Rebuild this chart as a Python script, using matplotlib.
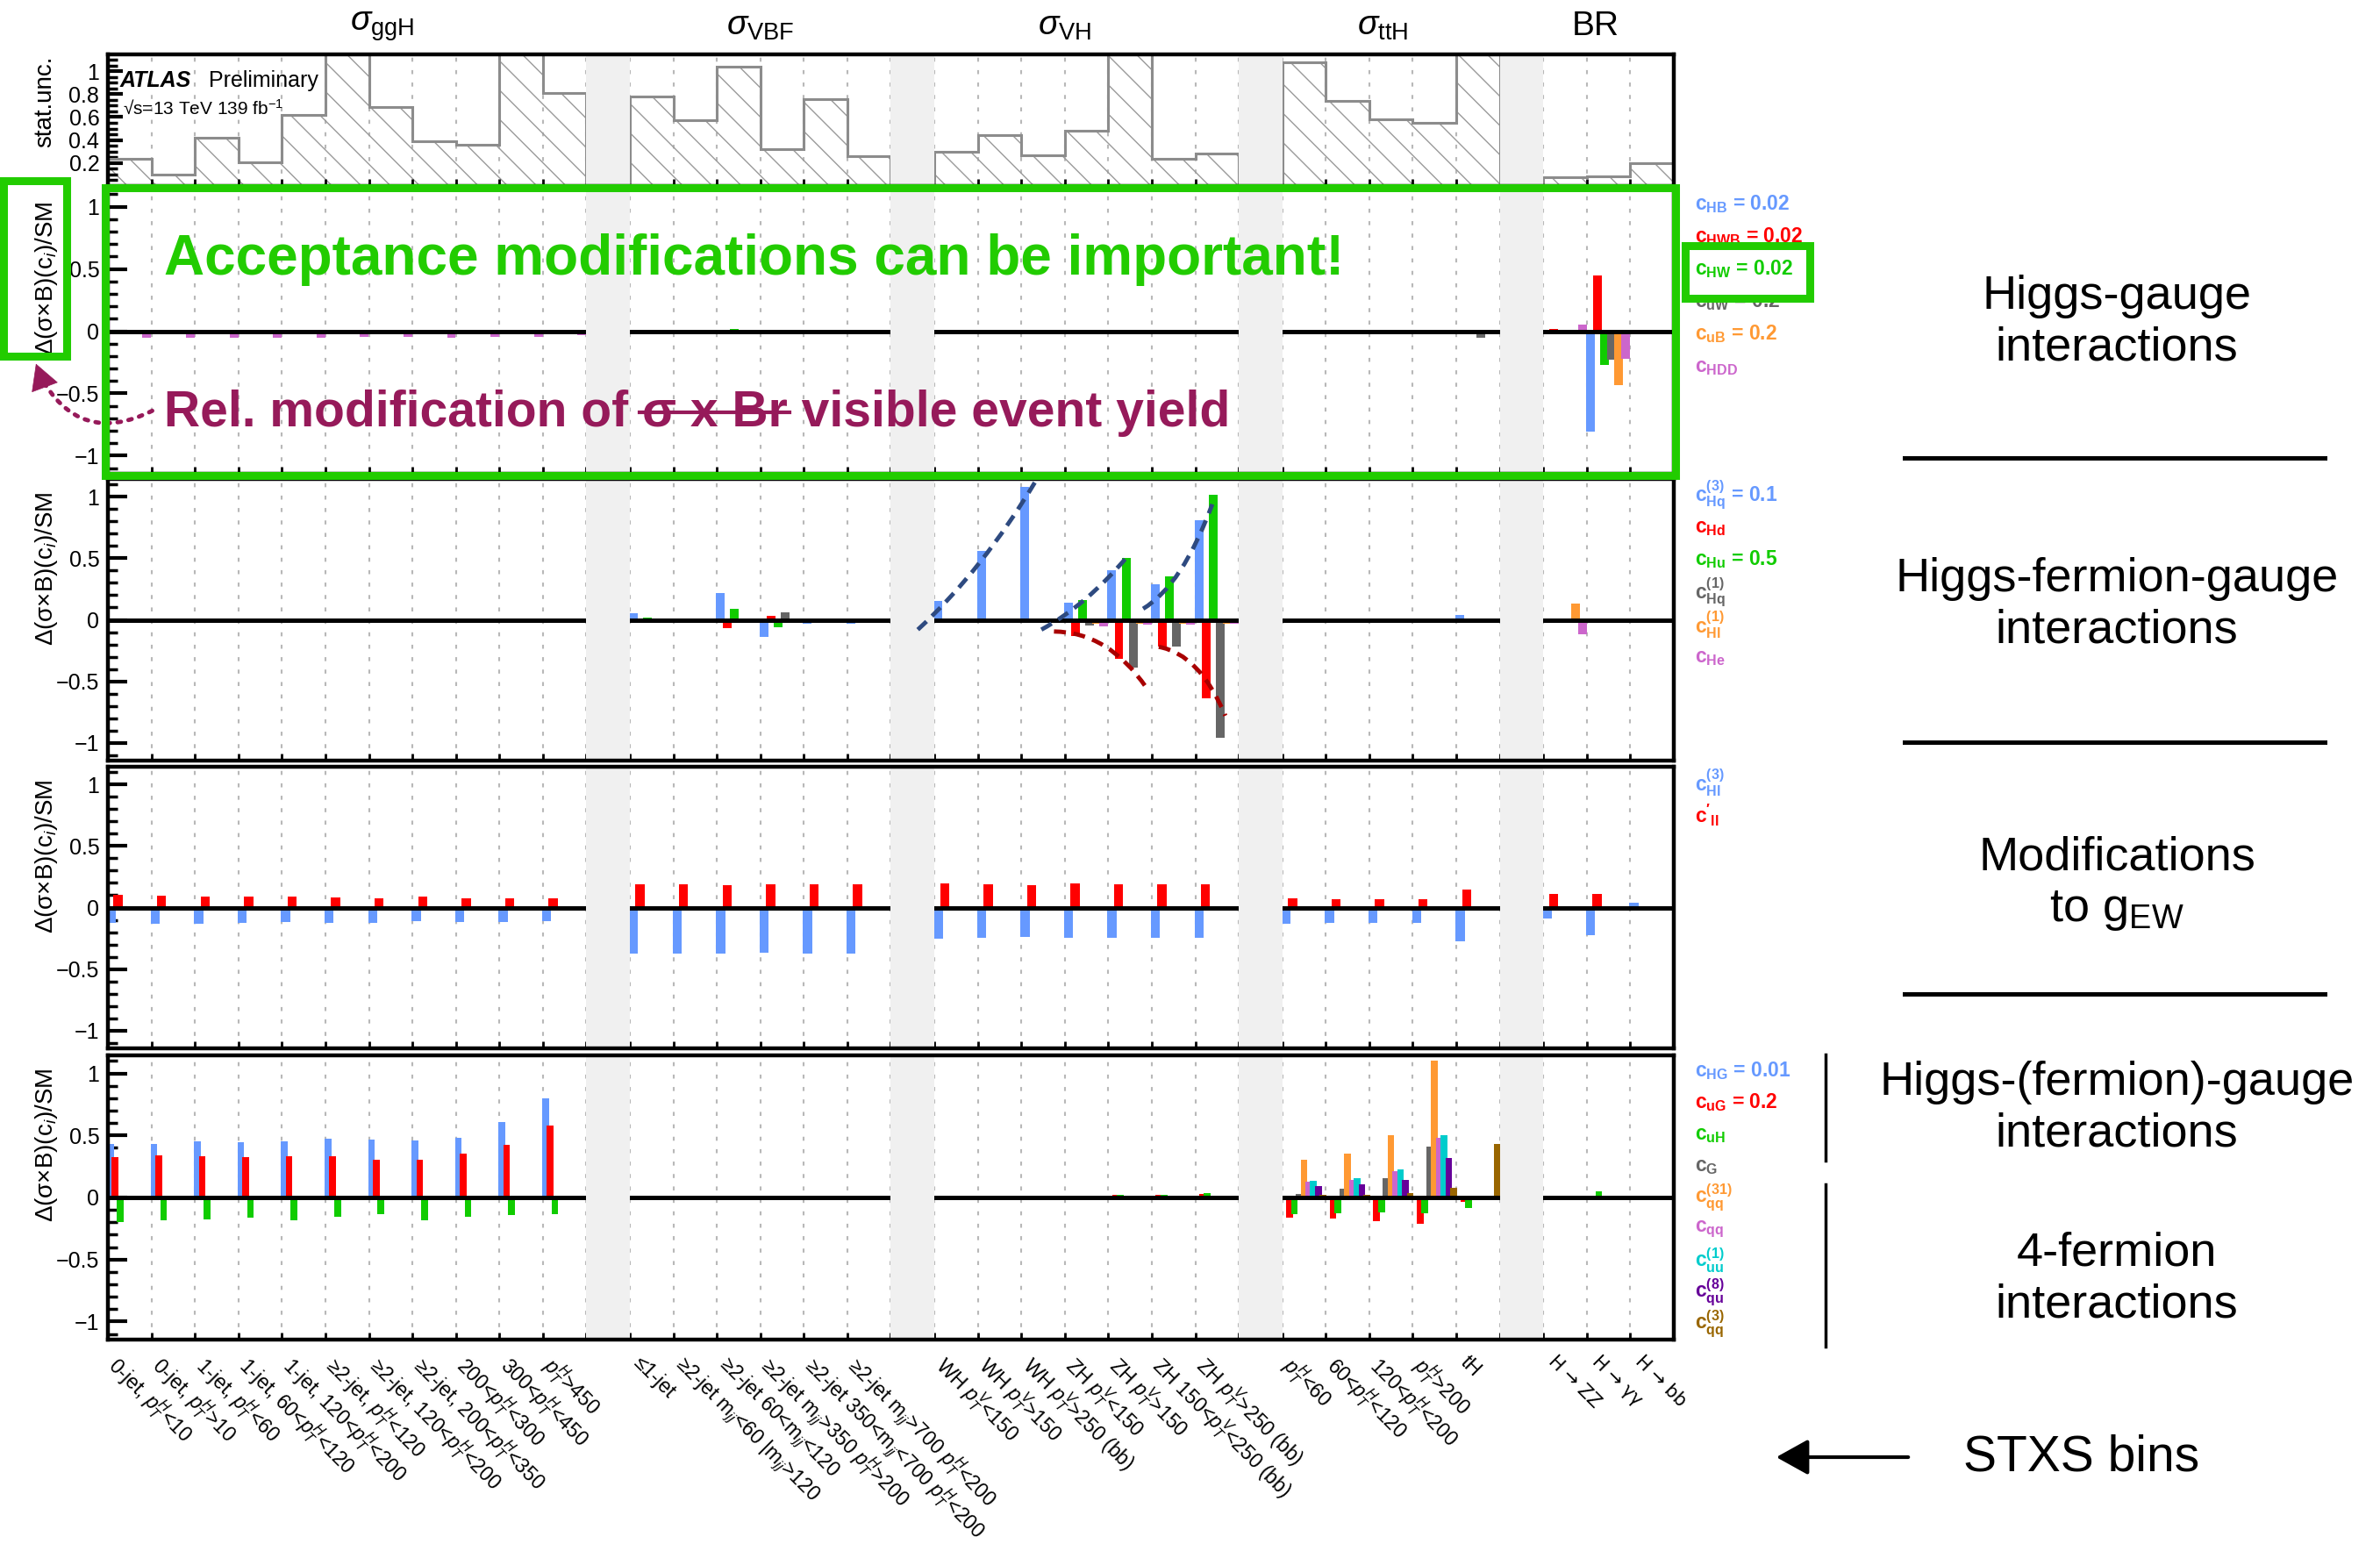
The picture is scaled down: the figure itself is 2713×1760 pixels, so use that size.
import numpy as np
import matplotlib
matplotlib.use("Agg")
import matplotlib.pyplot as plt
import matplotlib.transforms as mtransforms
from matplotlib.patches import Rectangle, FancyArrowPatch, PathPatch
from matplotlib.path import Path
from matplotlib.lines import Line2D
from matplotlib.ticker import FixedLocator, FixedFormatter, MultipleLocator

plt.rcParams['font.family'] = ['Liberation Sans', 'DejaVu Sans']
plt.rcParams['mathtext.fontset'] = 'custom'
plt.rcParams['mathtext.rm'] = 'Liberation Sans'
plt.rcParams['mathtext.it'] = 'Liberation Sans:italic'
plt.rcParams['mathtext.bf'] = 'Liberation Sans:bold'
plt.rcParams['mathtext.sf'] = 'Liberation Sans'
plt.rcParams['hatch.linewidth'] = 1.0

# ---------------- STXS bins ----------------
group_sizes = [11, 6, 7, 5, 3]
group_titles = [r'$\sigma_{\rm ggH}$', r'$\sigma_{\rm VBF}$', r'$\sigma_{\rm VH}$',
                r'$\sigma_{\rm ttH}$', 'BR']

bin_labels = [
    # ggH
    r'0-jet, $p_T^H$<10', r'0-jet, $p_T^H$>10', r'1-jet, $p_T^H$<60',
    r'1-jet, 60<$p_T^H$<120', r'1-jet, 120<$p_T^H$<200', r'≥2-jet, $p_T^H$<120',
    r'≥2-jet, 120<$p_T^H$<200', r'≥2-jet, 200<$p_T^H$<350', r'200<$p_T^H$<300',
    r'300<$p_T^H$<450', r'$p_T^H$>450',
    # VBF
    r'≤1-jet', r'≥2-jet m$_{jj}$<60 |m$_{jj}$>120', r'≥2-jet 60<m$_{jj}$<120',
    r'≥2-jet m$_{jj}$>350 $p_T^H$>200', r'≥2-jet 350<m$_{jj}$<700 $p_T^H$<200',
    r'≥2-jet m$_{jj}$>700 $p_T^H$<200',
    # VH
    r'WH $p_T^V$<150', r'WH $p_T^V$>150', r'WH $p_T^V$>250 (bb)', r'ZH $p_T^V$<150',
    r'ZH $p_T^V$>150', r'ZH 150<$p_T^V$<250 (bb)', r'ZH $p_T^V$>250 (bb)',
    # ttH
    r'$p_T^H$<60', r'60<$p_T^H$<120', r'120<$p_T^H$<200', r'$p_T^H$>200', 'tH',
    # BR
    'H → ZZ', 'H → γγ', 'H → bb',
]

# statistical uncertainty per bin (ggH | VBF | VH | ttH | BR)
stat_unc = [0.24, 0.10, 0.42, 0.21, 0.62, 1.20, 0.69, 0.39, 0.36, 1.20, 0.81,
            0.78, 0.57, 1.04, 0.32, 0.76, 0.26,
            0.30, 0.44, 0.27, 0.48, 1.20, 0.24, 0.28,
            1.08, 0.74, 0.58, 0.55, 1.20,
            0.08, 0.085, 0.20]

# ---------------- Higgs-gauge operators ----------------
c_HB = [0, 0, 0, 0, 0, 0, 0, 0, 0, 0, 0,
        0, 0, 0, 0, 0, 0,
        0, 0, 0, 0, 0, 0, 0,
        0, 0, 0, 0, 0,
        0, -0.81, 0]
c_HWB = [0, 0, 0, 0, 0, 0, 0, 0, 0, 0, 0,
         0, 0, 0, 0, 0, 0,
         0, 0, 0, 0, 0, 0, 0,
         0, 0, 0, 0, 0,
         0.02, 0.45, 0]
c_HW = [0, 0, 0, 0, 0, 0, 0, 0, 0, 0, 0,
        0.01, 0.004, 0.02, 0.01, 0.005, 0.005,
        0.008, 0.012, 0.01, 0.005, 0.012, 0.006, 0.005,
        0, 0, 0, 0, 0,
        -0.005, -0.27, 0]
c_uW = [0, 0, 0, 0, 0, 0, 0, 0, 0, 0, 0,
        0, 0, 0, 0, 0, 0,
        0, 0, 0, 0, 0, 0, 0,
        0, 0, 0, 0, -0.05,
        0, -0.23, 0]
c_uB = [0, 0, 0, 0, 0, 0, 0, 0, 0, 0, 0,
        0, 0, 0, 0, 0, 0,
        0, 0, 0, 0, 0, 0, 0,
        0, 0, 0, 0, 0,
        0, -0.43, 0]
c_HDD = [-0.055, -0.05, -0.05, -0.05, -0.05, -0.045, -0.045, -0.05, -0.045, -0.045, -0.03,
         -0.012, -0.01, -0.012, -0.01, -0.01, -0.01,
         -0.01, -0.012, -0.01, -0.008, -0.01, -0.01, -0.008,
         -0.02, -0.02, -0.02, -0.02, 0,
         0.05, -0.22, 0]

# ---------------- Higgs-fermion-gauge operators ----------------
c_Hq3 = [0, 0, 0, 0, 0, 0, 0, 0, 0, 0, 0,
         0.05, 0.01, 0.22, -0.14, -0.03, -0.03,
         0.15, 0.56, 1.08, 0.14, 0.40, 0.29, 0.81,
         0, 0, 0, 0.005, 0.04,
         0, 0, 0]
c_Hd = [0, 0, 0, 0, 0, 0, 0, 0, 0, 0, 0,
        -0.02, 0, -0.07, 0.03, 0, 0,
        0, 0, 0, -0.13, -0.32, -0.22, -0.64,
        0, 0, 0, 0, 0,
        0, 0, 0]
c_Hu = [0, 0, 0, 0, 0, 0, 0, 0, 0, 0, 0,
        0.02, 0, 0.09, -0.06, 0, 0.01,
        0, 0, 0, 0.16, 0.50, 0.35, 1.02,
        0, 0, 0, 0, 0,
        0, 0, 0]
c_Hq1 = [0, 0, 0, 0, 0, 0, 0, 0, 0, 0, 0,
         0, 0, 0, 0.06, 0, 0,
         0, 0, 0, -0.045, -0.39, -0.22, -0.96,
         0, 0, 0, 0, 0,
         0, 0, 0]
c_Hl1 = [0, 0, 0, 0, 0, 0, 0, 0, 0, 0, 0,
         0, 0, 0, 0, 0, 0,
         0, 0, 0, -0.03, -0.03, -0.03, -0.03,
         0, 0, 0, 0, 0,
         0.13, 0, 0]
c_He = [0, 0, 0, 0, 0, 0, 0, 0, 0, 0, 0,
        0, 0, 0, 0, 0, 0,
        0, 0, 0, -0.05, -0.04, -0.04, -0.03,
        0, 0, 0, 0, 0,
        -0.12, 0, 0]

# hand-drawn trend guides (quadratic: start, control, end)
blue_guides = [((18.62, -0.08), (20.1, 0.40), (21.35, 1.14)),
               ((21.46, -0.08), (22.5, 0.12), (23.45, 0.52)),
               ((23.80, 0.09), (24.7, 0.28), (25.39, 0.94))]
red_guides = [((21.75, -0.095), (23.0, -0.10), (23.87, -0.55)),
              ((24.16, -0.22), (25.1, -0.28), (25.69, -0.78))]

# ---------------- EW coupling modifications ----------------
c_Hl3 = [-0.125, -0.13, -0.134, -0.127, -0.12, -0.127, -0.123, -0.113, -0.118, -0.12, -0.113,
         -0.373, -0.373, -0.373, -0.37, -0.373, -0.373,
         -0.25, -0.248, -0.236, -0.248, -0.243, -0.243, -0.243,
         -0.13, -0.125, -0.123, -0.123, -0.276,
         -0.092, -0.224, 0.038]
c_ll1 = [0.104, 0.097, 0.092, 0.087, 0.09, 0.08, 0.075, 0.092, 0.075, 0.073, 0.073,
         0.19, 0.19, 0.185, 0.19, 0.19, 0.19,
         0.193, 0.191, 0.179, 0.193, 0.191, 0.189, 0.191,
         0.073, 0.068, 0.068, 0.068, 0.144,
         0.11, 0.113, -0.028]

# ---------------- Higgs-(fermion)-gauge and 4-fermion operators ----------------
c_HG = [0.43, 0.43, 0.45, 0.445, 0.45, 0.475, 0.465, 0.456, 0.48, 0.61, 0.80,
        0, 0, 0, 0, 0, 0,
        0, 0, 0, 0, 0, 0, 0,
        0, 0, 0, 0.005, 0,
        -0.01, -0.01, -0.01]
c_uG = [0.326, 0.336, 0.33, 0.324, 0.33, 0.33, 0.305, 0.305, 0.35, 0.425, 0.58,
        0, 0, 0, 0, 0, 0,
        0, 0, 0, 0, 0.024, 0.024, 0.028,
        -0.163, -0.173, -0.19, -0.213, -0.035,
        -0.005, -0.01, -0.01]
c_uH = [-0.2, -0.187, -0.177, -0.165, -0.182, -0.154, -0.137, -0.182, -0.154, -0.14, -0.132,
        0, 0, 0, 0, 0, 0,
        0, 0, 0, 0, 0.024, 0.02, 0.033,
        -0.135, -0.128, -0.123, -0.125, -0.087,
        0.015, 0.052, 0.01]
c_G = [0, 0, 0, 0, 0, 0, 0, 0, 0, 0, 0,
       0, 0, 0, 0, 0, 0,
       0, 0, 0, 0, 0, 0, 0,
       0.028, 0.069, 0.158, 0.407, 0,
       0, 0, 0]
c_qq31 = [0, 0, 0, 0, 0, 0, 0, 0, 0, 0, 0,
          0, 0, 0, 0, 0, 0,
          0, 0, 0, 0, 0, 0, 0,
          0.307, 0.35, 0.503, 1.106, 0,
          0, 0, 0]
c_qq = [0, 0, 0, 0, 0, 0, 0, 0, 0, 0, 0,
        0, 0, 0, 0, 0, 0,
        0, 0, 0, 0, 0, 0, 0,
        0.13, 0.144, 0.21, 0.48, 0,
        0, 0, 0]
c_uu1 = [0, 0, 0, 0, 0, 0, 0, 0, 0, 0, 0,
         0, 0, 0, 0, 0, 0,
         0, 0, 0, 0, 0, 0, 0,
         0.137, 0.154, 0.225, 0.50, 0,
         0, 0, 0]
c_qu8 = [0, 0, 0, 0, 0, 0, 0, 0, 0, 0, 0,
         0, 0, 0, 0, 0, 0,
         0, 0, 0, 0, 0, 0, 0,
         0.09, 0.104, 0.144, 0.32, 0,
         0, 0, 0]
c_qq3 = [0, 0, 0, 0, 0, 0, 0, 0, 0, 0, 0,
         0, 0, 0, 0, 0, 0,
         0, 0, 0, 0, 0, 0, 0,
         0.02, 0.024, 0.033, 0.08, 0.428,
         0, 0, 0]

BLUE, RED, GREEN, GRAY = '#6699ff', '#ff0000', '#11cc00', '#666666'
ORANGE, PINK, CYAN, PURPLE, BROWN = '#ff9933', '#cc66cc', '#00cccc', '#660099', '#996600'
HL_GREEN = '#22cc00'
PLUM = '#961a5a'

panels = [
    dict(series=[c_HB, c_HWB, c_HW, c_uW, c_uB, c_HDD],
         colors=[BLUE, RED, GREEN, GRAY, ORANGE, PINK],
         legend=[r'$\mathbf{c_{HB}}$ = 0.02', r'$\mathbf{c_{HWB}}$ = 0.02', r'$\mathbf{c_{HW}}$ = 0.02',
                 r'$\mathbf{c_{uW}}$ = 0.2', r'$\mathbf{c_{uB}}$ = 0.2', r'$\mathbf{c_{HDD}}$'],
         step=0.163, width=0.2, legend_dy=37),
    dict(series=[c_Hq3, c_Hd, c_Hu, c_Hq1, c_Hl1, c_He],
         colors=[BLUE, RED, GREEN, GRAY, ORANGE, PINK],
         legend=[r'$\mathbf{c_{Hq}^{(3)}}$ = 0.1', r'$\mathbf{c_{Hd}}$', r'$\mathbf{c_{Hu}}$ = 0.5',
                 r'$\mathbf{c_{Hq}^{(1)}}$', r'$\mathbf{c_{Hl}^{(1)}}$', r'$\mathbf{c_{He}}$'],
         step=0.163, width=0.2, legend_dy=37),
    dict(series=[c_Hl3, c_ll1], colors=[BLUE, RED],
         legend=[r'$\mathbf{c_{Hl}^{(3)}}$', r"$\mathbf{c'_{ll}}$"],
         step=0.15, width=0.21, legend_dy=37),
    dict(series=[c_HG, c_uG, c_uH, c_G, c_qq31, c_qq, c_uu1, c_qu8, c_qq3],
         colors=[BLUE, RED, GREEN, GRAY, ORANGE, PINK, CYAN, PURPLE, BROWN],
         legend=[r'$\mathbf{c_{HG}}$ = 0.01', r'$\mathbf{c_{uG}}$ = 0.2', r'$\mathbf{c_{uH}}$',
                 r'$\mathbf{c_{G}}$', r'$\mathbf{c_{qq}^{(31)}}$', r'$\mathbf{c_{qq}}$',
                 r'$\mathbf{c_{uu}^{(1)}}$', r'$\mathbf{c_{qu}^{(8)}}$', r'$\mathbf{c_{qq}^{(3)}}$'],
         step=0.11, width=0.155, legend_dy=36),
]

side_notes = [('Higgs-gauge\ninteractions', 367), ('Higgs-fermion-gauge\ninteractions', 689),
              ('Modifications\nto g$_{\\rm EW}$', 1008), ('Higgs-(fermion)-gauge\ninteractions', 1263),
              ('4-fermion\ninteractions', 1458)]

# ---------------- layout ----------------
W, H = 2713, 1760
fig = plt.figure(figsize=(W / 100, H / 100), dpi=100)


def fx(px):
    return px / W


def fy(py):
    return 1 - py / H


bin_slots, gap_slots = [], []
s = 0
for i, n in enumerate(group_sizes):
    bin_slots.extend(range(s, s + n))
    s += n
    if i < len(group_sizes) - 1:
        gap_slots.append(s)
        s += 1
n_slots = s
group_title_x = [6.3, 15.0, 22.0, 29.3, 34.2]

x_left, x_right = 123, 1908
rows_px = [(62, 212), (215, 540), (546, 867), (874, 1195), (1203, 1527)]
axes = [fig.add_axes([fx(x_left), fy(b), (x_right - x_left) / W, (b - t) / H]) for t, b in rows_px]


def frame(ax, ymin, ymax):
    ax.set_xlim(0, n_slots)
    ax.set_ylim(ymin, ymax)
    for b in range(1, n_slots):
        ax.axvline(b, color='#b8b8b8', lw=1.5, ls=(0, (2.2, 4.6)), zorder=0.5)
    for g in gap_slots:
        ax.axvspan(g, g + 1, color='#f0f0f0', lw=0, zorder=4)
    ax.set_xticks(np.arange(1, n_slots))
    ax.set_xticklabels([])
    ax.tick_params(axis='x', direction='in', length=6, width=2, top=False)
    ax.tick_params(axis='y', which='major', direction='in', length=16, width=3, labelsize=18, pad=7)
    ax.tick_params(axis='y', which='minor', direction='in', length=8, width=2.5)
    for sp in ax.spines.values():
        sp.set_linewidth(3.2)
        sp.set_zorder(6)


# statistical uncertainty panel
ax0 = axes[0]
frame(ax0, 0, 1.146)
stat_full = np.zeros(n_slots)
stat_full[bin_slots] = stat_unc
edges = np.arange(n_slots + 1)
ax0.stairs(stat_full, edges, fill=True, facecolor='none', edgecolor='#9a9a9a', hatch='\\', lw=0, zorder=1)
ax0.stairs(stat_full, edges, color='#8c8c8c', lw=2.2, zorder=2)
ax0.yaxis.set_major_locator(FixedLocator([0.2, 0.4, 0.6, 0.8, 1.0]))
ax0.yaxis.set_major_formatter(FixedFormatter(['0.2', '0.4', '0.6', '0.8', '1']))
ax0.yaxis.set_minor_locator(MultipleLocator(0.05))
ax0.tick_params(axis='y', which='major', length=12)
ax0.set_ylabel('stat.unc.', fontsize=20, loc='top')
ax0.yaxis.set_label_coords(-0.033, 0.99)

for gx, gt in zip(group_title_x, group_titles):
    ax0.text(gx, fy(30), gt, transform=mtransforms.blended_transform_factory(ax0.transData, fig.transFigure),
             ha='center', va='center', fontsize=28)

fig.text(fx(137), fy(92), 'ATLAS', fontsize=18, fontweight='bold', style='italic', va='center', zorder=8)
fig.text(fx(238), fy(92), 'Preliminary', fontsize=18, va='center', zorder=8)
fig.text(fx(140), fy(124), '√s=13 TeV 139 fb$^{-1}$', fontsize=15, va='center', zorder=8)

# coefficient panels
for ax, p in zip(axes[1:], panels):
    frame(ax, -1.145, 1.145)
    ax.axhline(0, color='black', lw=3.6, zorder=3)
    for k, (vals, col) in enumerate(zip(p['series'], p['colors'])):
        xs = np.array(bin_slots) - 0.02 + k * p['step']
        ax.bar(xs, vals, width=p['width'], align='edge', color=col, lw=0, zorder=2)
    ax.yaxis.set_major_locator(FixedLocator([-1, -0.5, 0, 0.5, 1]))
    ax.yaxis.set_major_formatter(FixedFormatter(['\u22121', '\u22120.5', '0', '0.5', '1']))
    ax.yaxis.set_minor_locator(MultipleLocator(0.1))
    ax.set_ylabel('Δ(σ×B)(c$_i$)/SM', fontsize=20, loc='top')
    ax.yaxis.set_label_coords(-0.031, 0.955)

    top_px = H * (1 - ax.get_position().y1)
    p['texts'] = []
    for i, (lab, col) in enumerate(zip(p['legend'], p['colors'])):
        t = fig.text(fx(1932), fy(top_px + 18 + i * p['legend_dy']), lab, color=col, fontsize=16.5,
                     fontweight='bold', va='center', ha='left', zorder=4)
        p['texts'].append(t)

# trend guides in the Higgs-fermion-gauge panel
ax2 = axes[2]
for guides, col in ((blue_guides, '#2e4a80'), (red_guides, '#a80000')):
    for p0, p1, p2 in guides:
        path = Path([p0, p1, p2], [Path.MOVETO, Path.CURVE3, Path.CURVE3])
        ax2.add_patch(PathPatch(path, fill=False, ec=col, lw=3.5, ls=(0, (2.8, 1.8)), zorder=5))

# bin labels
ax4 = axes[4]
lab_tr = mtransforms.blended_transform_factory(ax4.transData, ax4.transAxes)
for slot, lab in zip(bin_slots, bin_labels):
    fam = ['DejaVu Sans'] if '→' in lab else None
    ax4.text(slot + 0.32, -0.045, lab, transform=lab_tr, rotation=-45, rotation_mode='anchor',
             ha='left', va='top', fontsize=16.5 if fam is None else 15, family=fam)

# highlight boxes
fig.add_artist(Rectangle((fx(120), fy(542)), 1790 / W, 328 / H, transform=fig.transFigure,
                         fill=False, ec=HL_GREEN, lw=6.5, zorder=10))
fig.add_artist(Rectangle((fx(4), fy(406)), 72 / W, 200 / H, transform=fig.transFigure,
                         fill=False, ec=HL_GREEN, lw=6.5, zorder=10))
fig.add_artist(Rectangle((fx(1921), fy(340)), 142 / W, 60 / H, transform=fig.transFigure,
                         fc='white', ec=HL_GREEN, lw=6.5, zorder=6))
panels[0]['texts'][2].set_zorder(7)

fig.text(fx(187), fy(313), 'Acceptance modifications can be important!', color=HL_GREEN,
         fontsize=46, fontweight='bold', va='baseline', ha='left', zorder=9)

# relative modification note with struck-out part
renderer = fig.canvas.get_renderer()
rel_kw = dict(color=PLUM, fontsize=41, fontweight='bold', va='baseline', ha='left', zorder=9)
fig.text(fx(187), fy(486), 'Rel. modification of σ x Br visible event yield', **rel_kw)
probe_a = fig.text(fx(187), fy(486), 'Rel. modification of', **rel_kw)
probe_b = fig.text(fx(187), fy(486), 'Rel. modification of σ x Br', **rel_kw)
xa = probe_a.get_window_extent(renderer).x1
xb = probe_b.get_window_extent(renderer).x1
probe_a.remove()
probe_b.remove()
em = 41 * 100 / 72
x_start = xa + 0.22 * em
y_strike = fy(486) * H + 0.28 * em
fig.add_artist(Line2D([x_start / W, (xb + 2) / W], [y_strike / H, y_strike / H], transform=fig.transFigure,
                      color=PLUM, lw=3, zorder=9))

# dotted pointer from the note to the axis title
fig.add_artist(FancyArrowPatch((fx(176), fy(467)), (fx(44), fy(425)), transform=fig.transFigure,
                               connectionstyle='arc3,rad=-0.5', arrowstyle='-',
                               color=PLUM, lw=3.5, ls=(0, (0.8, 1.8)), zorder=9))
fig.add_artist(FancyArrowPatch((fx(49), fy(436)), (fx(40), fy(412)), transform=fig.transFigure,
                               arrowstyle='-|>,head_length=1.0,head_width=0.55', mutation_scale=20,
                               color=PLUM, lw=0.5, zorder=9))

# right-hand annotations
for txt, yc in side_notes:
    fig.text(fx(2413), fy(yc), txt, fontsize=39, ha='center', va='center', linespacing=1.22)
for yl in (522, 846, 1133):
    fig.add_artist(Line2D([fx(2171), fx(2650)], [fy(yl), fy(yl)], transform=fig.transFigure,
                          color='black', lw=3.6))
for y0, y1 in ((1202, 1323), (1350, 1535)):
    fig.add_artist(Line2D([fx(2081), fx(2081)], [fy(y0), fy(y1)], transform=fig.transFigure,
                          color='black', lw=2.5))

fig.text(fx(2373), fy(1661), 'STXS bins', fontsize=41, ha='center', va='center')
fig.add_artist(FancyArrowPatch((fx(2178), fy(1661)), (fx(2022), fy(1661)), transform=fig.transFigure,
                               arrowstyle='-|>,head_length=0.9,head_width=0.5', mutation_scale=25,
                               color='black', lw=3))

fig.savefig('out.png', dpi=100)
